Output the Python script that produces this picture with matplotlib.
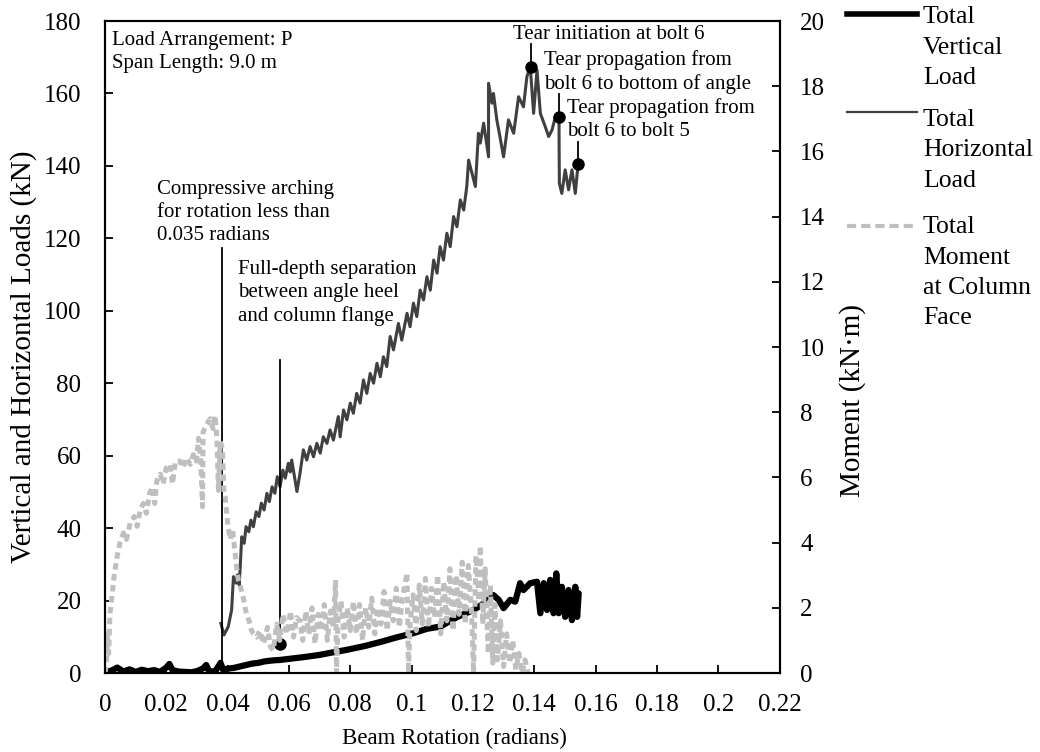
import numpy as np
import matplotlib
matplotlib.use("Agg")
import matplotlib.pyplot as plt
from matplotlib.lines import Line2D

plt.rcParams['font.family'] = ['Liberation Serif', 'DejaVu Serif']

# ---------------- measured data ----------------
# Total vertical load (kN) vs beam rotation (rad)
vert_rot = [0.0000, 0.0020, 0.0040, 0.0060, 0.0080, 0.0100, 0.0120, 0.0140,
            0.0160, 0.0180, 0.0200, 0.0210, 0.0220, 0.0240, 0.0260, 0.0280,
            0.0300, 0.0320, 0.0330, 0.0340, 0.0360, 0.0377, 0.0385, 0.0400,
            0.0420, 0.0450, 0.0480, 0.0500, 0.0520, 0.0550, 0.0571, 0.0600,
            0.0650, 0.0700, 0.0750, 0.0789, 0.0850, 0.0900, 0.0950, 0.1006,
            0.1050, 0.1093, 0.1150, 0.1202, 0.1235, 0.1267, 0.1284, 0.1300,
            0.1322, 0.1338, 0.1354, 0.1365, 0.1387, 0.1409, 0.1420, 0.1431,
            0.1442, 0.1452, 0.1463, 0.1472, 0.1480, 0.1490, 0.1501, 0.1512,
            0.1523, 0.1534, 0.1540, 0.1545]
vert_load = [0.3, 0.6, 1.5, 0.4, 1.0, 0.3, 0.9, 0.5,
             0.8, 0.3, 1.5, 2.5, 0.8, 0.4, 0.3, 0.2,
             0.5, 1.3, 2.2, 0.4, 0.5, 2.8, 0.9, 1.2,
             1.4, 2.0, 2.6, 2.8, 3.2, 3.5, 3.6, 3.9,
             4.4, 5.0, 5.8, 6.4, 7.5, 8.6, 9.8, 11.0,
             12.2, 12.8, 15.5, 17.4, 19.2, 21.5, 20.2, 17.9,
             20.2, 19.7, 24.8, 22.9, 24.8, 25.2, 16.5, 24.8,
             17.4, 25.7, 16.5, 27.5, 16.5, 23.8, 15.5, 22.9,
             14.6, 23.8, 15.5, 22.0]

# Total horizontal load (kN) vs beam rotation (rad)
horiz_rot = [0.0378, 0.0388, 0.0402, 0.0413, 0.0419, 0.0428, 0.0432, 0.0438,
             0.0446, 0.0454, 0.0460, 0.0469, 0.0476, 0.0484, 0.0493, 0.0502,
             0.0510, 0.0519, 0.0528, 0.0536, 0.0545, 0.0554, 0.0562, 0.0571,
             0.0580, 0.0588, 0.0598, 0.0604, 0.0609, 0.0626, 0.0636, 0.0647,
             0.0658, 0.0669, 0.0680, 0.0691, 0.0702, 0.0712, 0.0724, 0.0734,
             0.0745, 0.0761, 0.0767, 0.0778, 0.0789, 0.0800, 0.0810, 0.0821,
             0.0832, 0.0843, 0.0854, 0.0865, 0.0876, 0.0887, 0.0898, 0.0908,
             0.0919, 0.0930, 0.0941, 0.0957, 0.0968, 0.0985, 0.0995, 0.1006,
             0.1017, 0.1028, 0.1039, 0.1050, 0.1061, 0.1072, 0.1083, 0.1093,
             0.1104, 0.1115, 0.1126, 0.1137, 0.1148, 0.1159, 0.1170, 0.1180,
             0.1186, 0.1208, 0.1218, 0.1224, 0.1235, 0.1251, 0.1251, 0.1262,
             0.1267, 0.1278, 0.1284, 0.1300, 0.1316, 0.1333, 0.1349, 0.1365,
             0.1376, 0.1387, 0.1398, 0.1409, 0.1420, 0.1436, 0.1447, 0.1458,
             0.1469, 0.1481, 0.1481, 0.1482, 0.1490, 0.1501, 0.1512, 0.1523,
             0.1534, 0.1543]
horiz_load = [13.7, 10.5, 12.8, 17.4, 26.6, 24.8, 27.1, 24.3,
              37.6, 35.8, 40.4, 39.0, 42.2, 40.4, 44.5, 43.2,
              46.9, 45.0, 49.6, 47.3, 51.4, 49.6, 54.2, 51.4,
              56.0, 53.8, 57.9, 55.5, 58.8, 50.1, 55.1, 61.6,
              58.8, 62.5, 59.7, 63.4, 60.7, 65.2, 63.4, 67.1,
              64.3, 70.8, 65.2, 72.6, 69.9, 74.5, 71.7, 77.2,
              74.5, 80.9, 77.2, 82.7, 80.0, 85.5, 81.8, 87.3,
              84.6, 92.9, 89.2, 96.5, 91.9, 99.3, 95.6, 102.1,
              98.4, 105.7, 103.0, 109.4, 105.7, 114.0, 110.4, 117.7,
              114.0, 121.4, 117.7, 126.0, 123.2, 130.6, 127.8, 134.3,
              141.6, 134.3, 149.0, 146.3, 151.8, 142.5, 162.8, 157.3,
              160.0, 152.7, 150.0, 142.5, 152.7, 149.0, 159.1, 156.3,
              164.6, 167.4, 154.5, 166.5, 154.5, 150.8, 148.1, 149.9,
              153.6, 153.4, 148.0, 135.2, 132.4, 138.9, 133.4, 138.9,
              132.4, 140.5]

# Total moment at column face (kN·m) vs beam rotation (rad)
moment_rot = [0.0000, 0.0005, 0.0008, 0.0012, 0.0016, 0.0022, 0.0030, 0.0040,
              0.0049, 0.0060, 0.0070, 0.0082, 0.0095, 0.0105, 0.0115, 0.0125,
              0.0135, 0.0145, 0.0155, 0.0162, 0.0169, 0.0180, 0.0190, 0.0200,
              0.0212, 0.0220, 0.0230, 0.0245, 0.0255, 0.0265, 0.0278, 0.0288,
              0.0298, 0.0305, 0.0312, 0.0318, 0.0320, 0.0330, 0.0343, 0.0352,
              0.0359, 0.0365, 0.0370, 0.0376, 0.0383, 0.0388, 0.0392, 0.0400,
              0.0408, 0.0416, 0.0424, 0.0430, 0.0435, 0.0443, 0.0451, 0.0457,
              0.0462, 0.0470, 0.0478, 0.0484, 0.0495, 0.0505, 0.0517, 0.0530,
              0.0540, 0.0549, 0.0560, 0.0570, 0.0580, 0.0593, 0.0605, 0.0615,
              0.0625, 0.0636, 0.0645, 0.0655, 0.0665, 0.0675, 0.0685, 0.0695,
              0.0705, 0.0715, 0.0725, 0.0735, 0.0745, 0.0752, 0.0755, 0.0760,
              0.0770, 0.0780, 0.0790, 0.0800, 0.0810, 0.0820, 0.0830, 0.0840,
              0.0850, 0.0860, 0.0870, 0.0880, 0.0890, 0.0900, 0.0910, 0.0920,
              0.0930, 0.0940, 0.0950, 0.0960, 0.0970, 0.0985, 0.0990, 0.0995,
              0.1005, 0.1015, 0.1025, 0.1035, 0.1045, 0.1055, 0.1065, 0.1075,
              0.1085, 0.1095, 0.1105, 0.1115, 0.1125, 0.1135, 0.1145, 0.1155,
              0.1165, 0.1175, 0.1185, 0.1195, 0.1202, 0.1210, 0.1220, 0.1224,
              0.1232, 0.1240, 0.1250, 0.1257, 0.1265, 0.1272, 0.1280, 0.1290,
              0.1300, 0.1310, 0.1320, 0.1330, 0.1340, 0.1350, 0.1360, 0.1370,
              0.1380]
moment_val = [0.0, 0.3, 1.2, 0.6, 1.8, 2.3, 3.0, 3.6,
              4.0, 4.3, 4.1, 4.6, 4.8, 4.5, 5.0, 5.2,
              4.9, 5.5, 5.7, 5.2, 5.9, 6.1, 5.8, 6.3,
              6.4, 5.8, 6.5, 6.5, 6.3, 6.6, 6.4, 6.7,
              6.5, 7.2, 6.6, 5.1, 7.4, 7.6, 7.8, 7.5,
              7.9, 7.2, 5.6, 7.1, 6.9, 5.5, 5.4, 4.6,
              4.1, 4.4, 3.7, 3.2, 2.85, 2.6, 2.3, 2.0,
              1.8, 1.6, 1.3, 1.2, 1.1, 1.3, 0.9, 1.4,
              0.8, 0.7, 1.5, 1.0, 1.8, 1.2, 1.9, 1.1,
              1.7, 1.6, 1.0, 1.9, 1.2, 2.0, 0.9, 1.8,
              1.3, 2.1, 1.0, 1.9, 1.4, 2.85, 0.0, 1.6,
              2.2, 1.1, 2.0, 1.3, 2.2, 1.2, 2.1, 1.0,
              2.0, 1.4, 2.3, 1.2, 2.0, 1.5, 2.5, 1.3,
              2.2, 1.6, 2.6, 1.4, 2.3, 3.07, 0.0, 1.5,
              2.4, 1.3, 2.7, 1.5, 2.9, 1.4, 2.6, 1.7,
              3.0, 1.2, 2.8, 1.6, 3.2, 1.3, 3.0, 1.8,
              3.4, 1.5, 3.3, 2.0, 0.0, 3.6, 2.2, 3.9,
              1.5, 3.2, 0.6, 2.7, 0.3, 2.1, 0.4, 1.6,
              0.2, 1.2, 0.3, 1.0, 0.1, 0.6, 0.0, 0.4,
              0.0]

# Annotated events: (rotation, load) of marker, top of leader line
event_rot = [0.0382, 0.0571, 0.1389, 0.1481, 0.1543]
event_load = [0.0, 7.9, 167.2, 153.4, 140.5]
event_top = [117.3, 86.4, 173.7, 159.9, 146.7]
event_marked = [False, True, True, True, True]

x_ticks = [0, 0.02, 0.04, 0.06, 0.08, 0.1, 0.12, 0.14, 0.16, 0.18, 0.2, 0.22]
x_ticklabels = ['0', '0.02', '0.04', '0.06', '0.08', '0.1', '0.12', '0.14',
                '0.16', '0.18', '0.2', '0.22']
load_ticks = list(range(0, 181, 20))
moment_ticks = list(range(0, 21, 2))

# ---------------- figure ----------------
W, H = 1040, 752
fig = plt.figure(figsize=(W / 100, H / 100), dpi=100)
ax_l, ax_r, ax_t, ax_b = 105, 779.5, 21, 673
ax = fig.add_axes([ax_l / W, 1 - ax_b / H, (ax_r - ax_l) / W, (ax_b - ax_t) / H])
ax2 = ax.twinx()

TICK_FS = 18
ANN_FS = 15

ax.plot(vert_rot, vert_load, color='black', lw=4.5, solid_capstyle='round',
        solid_joinstyle='round', zorder=3)
ax.plot(horiz_rot, horiz_load, color='#404040', lw=2.2, zorder=4,
        solid_joinstyle='round')
ax2.plot(moment_rot, moment_val, color='#bfbfbf', lw=3.6,
         linestyle=(0, (1.3, 0.9)), zorder=2)

# event leader lines and markers
for r, v, top, mk in zip(event_rot, event_load, event_top, event_marked):
    ax.plot([r, r], [v, top], color='black', lw=1.3, zorder=5)
    if mk:
        ax.plot([r], [v], 'o', color='black', ms=8, zorder=6)

ax.set_xlim(0, 0.22)
ax.set_ylim(0, 180)
ax2.set_ylim(0, 20)
ax.set_xticks(x_ticks)
ax.set_xticklabels(x_ticklabels)
ax.set_yticks(load_ticks)
ax2.set_yticks(moment_ticks)

for s in list(ax.spines.values()) + list(ax2.spines.values()):
    s.set_linewidth(1.5)

ax.tick_params(axis='x', direction='in', length=6, width=1.3,
               labelsize=TICK_FS, pad=15, top=False)
ax.tick_params(axis='y', direction='in', length=6, width=1.3,
               labelsize=TICK_FS, pad=17, right=False)
ax2.tick_params(axis='y', direction='in', length=6, width=1.3,
                labelsize=TICK_FS, pad=15)

ax.set_xlabel('Beam Rotation (radians)', fontsize=16.5)
ax.xaxis.set_label_coords((454 - ax_l) / (ax_r - ax_l), -(728 - ax_b) / (ax_b - ax_t))
ax.set_ylabel('Vertical and Horizontal Loads (kN)', fontsize=21)
ax.yaxis.set_label_coords(-(ax_l - 37) / (ax_r - ax_l), (ax_b - 357) / (ax_b - ax_t))
ax2.set_ylabel('Moment (kN·m)', fontsize=21)
ax2.yaxis.set_label_coords((839 - ax_l) / (ax_r - ax_l), (ax_b - 400) / (ax_b - ax_t))

# annotations
def ann(x_px, top_px, text):
    ax.text((x_px - ax_l) / (ax_r - ax_l), (ax_b - top_px) / (ax_b - ax_t), text,
            transform=ax.transAxes, fontsize=ANN_FS, va='top', ha='left',
            linespacing=1.27)

ann(112, 31, 'Load Arrangement: P\nSpan Length: 9.0 m')
ann(157, 180, 'Compressive arching\nfor rotation less than\n0.035 radians')
ann(238, 260, 'Full-depth separation\nbetween angle heel\nand column flange')
ann(513, 25, 'Tear initiation at bolt 6')
ann(544, 50, 'Tear propagation from\nbolt 6 to bottom of angle')
ann(567, 98, 'Tear propagation from\nbolt 6 to bolt 5')

# legend, drawn in figure pixels
LEG_FS = 18.5
legend_items = [
    (14, dict(color='black', lw=4.0), ['Total', 'Vertical', 'Load'], 17),
    (112, dict(color='#404040', lw=1.6), ['Total', 'Horizontal', 'Load'], 120),
    (226, dict(color='#bfbfbf', lw=3.0, linestyle=(0, (2.2, 1.2))),
     ['Total', 'Moment', 'at Column', 'Face'], 227),
]
for y_line, style, lines, y_text in legend_items:
    fig.add_artist(Line2D([847 / W, 917 / W], [1 - y_line / H, 1 - y_line / H],
                          transform=fig.transFigure, **style))
    for i, t in enumerate(lines):
        fig.text(923 / W, 1 - (y_text + 30.5 * i) / H, t, fontsize=LEG_FS,
                 va='center', ha='left')

fig.savefig('out.png', dpi=100)
